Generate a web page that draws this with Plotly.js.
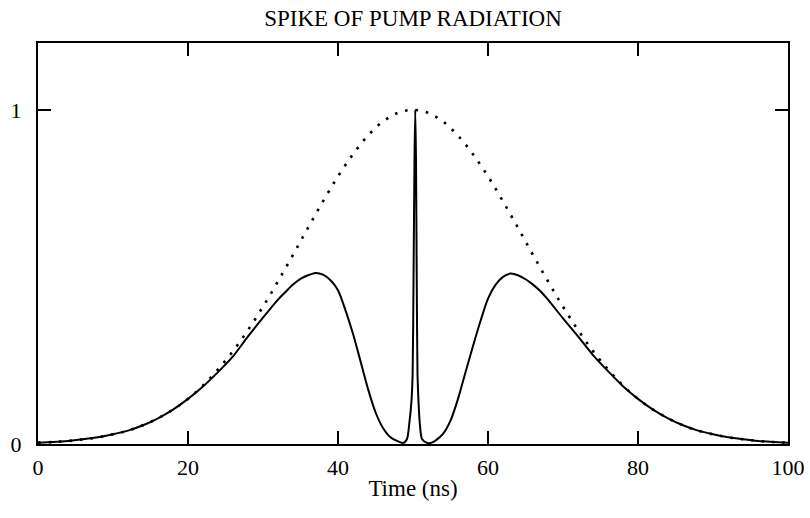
<!DOCTYPE html>
<html>
<head>
<meta charset="utf-8">
<script src="https://cdn.plot.ly/plotly-3.0.1.min.js"></script>
<style>html,body{margin:0;padding:0;background:#fff;}#chart{width:810px;height:518px;}</style>
</head>
<body>
<div id="chart"></div>
<script>
// Dotted curve (pump pulse envelope)
const pumpTime = [0,2,4,6,8,10,12,14,16,18,20,22,24,26,28,30,32,34,36,38,40,42,44,46,48,50,52,54,56,58,60,62,64,66,68,70,72,74,76,78,80,82,84,86,88,90,92,94,96,98,100];
const pumpValue = [0.004,0.006,0.009,0.014,0.020,0.029,0.040,0.056,0.077,0.103,0.135,0.175,0.223,0.278,0.341,0.411,0.487,0.566,0.647,0.726,0.801,0.867,0.923,0.965,0.991,1.000,0.991,0.965,0.923,0.867,0.801,0.726,0.647,0.566,0.487,0.411,0.341,0.278,0.223,0.175,0.135,0.103,0.077,0.056,0.040,0.029,0.020,0.014,0.009,0.006,0.004];

// Solid curve (transmitted pump with spike)
const spikeTime = [0,2,4,6,8,10,12,14,16,18,20,22,24,26,28,30,32,33,34,35,36,37,38,39,40,41,42,43,44,45,46,47,48,48.7,49.2,49.5,49.8,49.95,50.07,50.2,50.3,50.4,50.5,50.6,50.75,50.9,51.2,51.9,52.5,53,54,55,56,57,58,59,60,61,62,63,64,65,66,67,68,70,72,74,76,78,80,82,84,86,88,90,92,94,96,98,100];
const spikeValue = [0.004,0.006,0.009,0.014,0.020,0.029,0.040,0.056,0.077,0.103,0.135,0.172,0.215,0.262,0.322,0.378,0.432,0.455,0.477,0.494,0.505,0.512,0.507,0.490,0.460,0.400,0.330,0.248,0.165,0.095,0.048,0.020,0.008,0.003,0.015,0.060,0.130,0.210,0.490,0.850,1.000,0.850,0.490,0.210,0.120,0.063,0.015,0.003,0.004,0.010,0.030,0.070,0.135,0.215,0.293,0.368,0.435,0.476,0.500,0.510,0.505,0.493,0.477,0.457,0.432,0.376,0.322,0.266,0.218,0.173,0.135,0.103,0.077,0.056,0.040,0.029,0.020,0.014,0.009,0.006,0.004];

const xTicks = [0,20,40,60,80,100];
const yTicks = [0,1];
const yTickText = ['0','1'];

const serif = 'Liberation Serif, Times New Roman, serif';

const traces = [
  {x: pumpTime, y: pumpValue, mode: 'lines', type: 'scatter',
   line: {color: '#000', width: 2.6, dash: '2.6px,7.9px', shape: 'spline'}, hoverinfo: 'skip'},
  {x: spikeTime, y: spikeValue, mode: 'lines', type: 'scatter',
   line: {color: '#000', width: 2, shape: 'spline', smoothing: 0.7}, hoverinfo: 'skip'}
];

const axisCommon = {
  showline: true, linecolor: '#000', linewidth: 2, mirror: 'ticks',
  ticks: 'inside', ticklen: 13, tickwidth: 1.6, tickcolor: '#000',
  showgrid: false, zeroline: false,
  tickfont: {family: serif, size: 22, color: '#000'}
};

const layout = {
  width: 810, height: 518,
  margin: {l: 38, r: 22, t: 43, b: 74},
  paper_bgcolor: '#fff', plot_bgcolor: '#fff',
  showlegend: false,
  title: {text: 'SPIKE OF PUMP RADIATION', font: {family: serif, size: 23, color: '#000'},
          x: 0.5, xref: 'paper', y: 1 - 18/518, yref: 'container', yanchor: 'middle'},
  xaxis: Object.assign({}, axisCommon, {
    range: [0, 100], tickvals: xTicks, ticktext: xTicks.map(String),
    ticklabelstandoff: 3,
    title: {text: 'Time (ns)', font: {family: serif, size: 23, color: '#000'}, standoff: 0}
  }),
  yaxis: Object.assign({}, axisCommon, {
    range: [0, 1.2], tickvals: yTicks, ticktext: yTickText,
    ticklabelstandoff: 10
  })
};

Plotly.newPlot('chart', traces, layout, {staticPlot: true, displayModeBar: false});
</script>
</body>
</html>
